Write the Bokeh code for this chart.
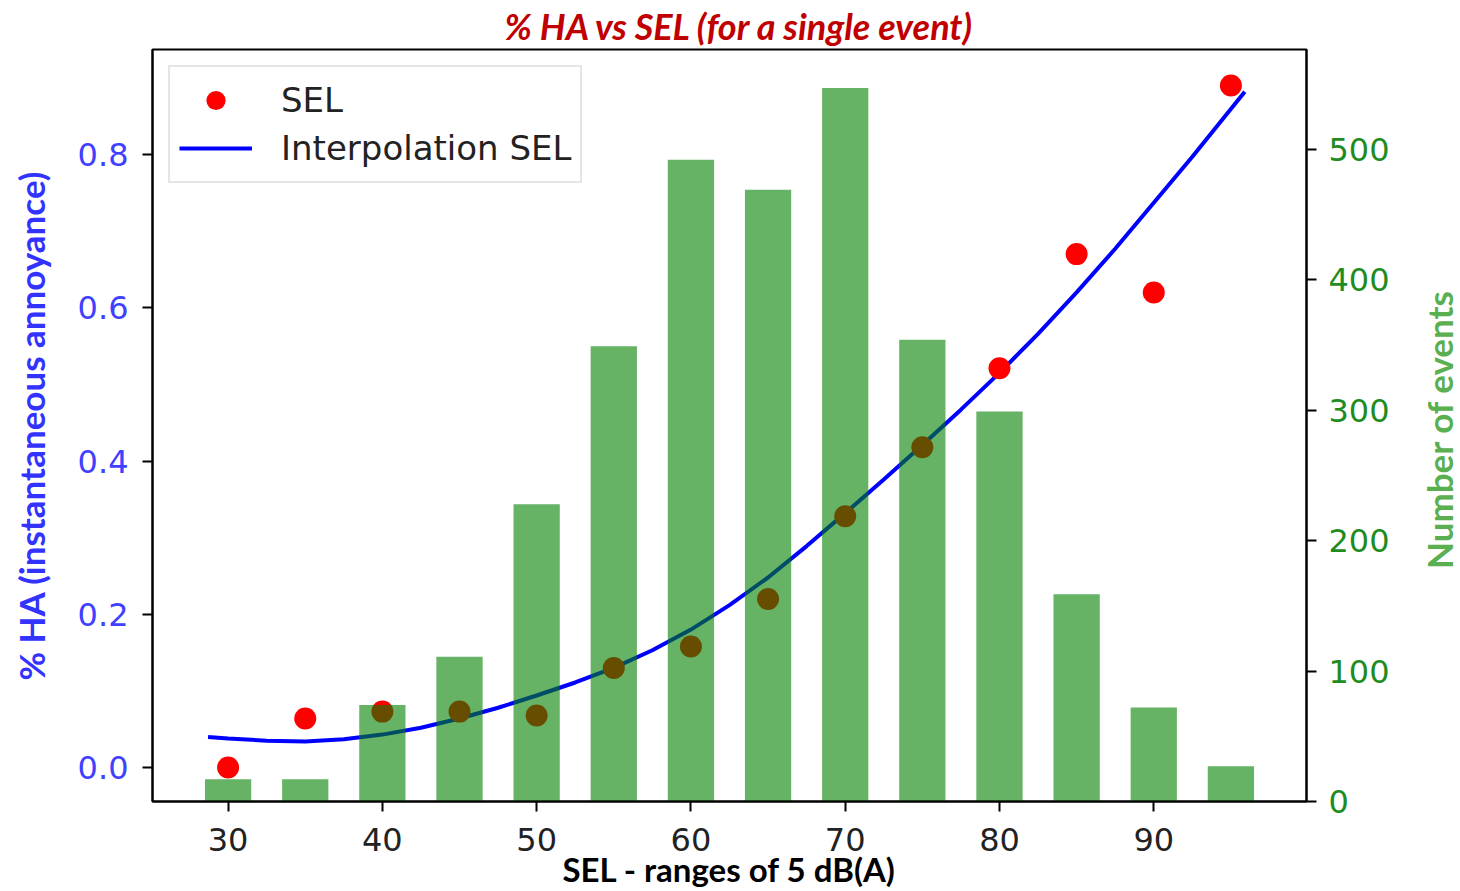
import math
from bokeh.plotting import figure
from bokeh.layouts import row
from bokeh.models import Range1d, LinearAxis, Label, FixedTicker, PrintfTickFormatter
from bokeh.embed import file_html
from bokeh.resources import INLINE

# ---- data ----
sel_x = [30, 35, 40, 45, 50, 55, 60, 65, 70, 75, 80, 85, 90, 95]
ha_values = [0.0, 0.064, 0.073, 0.073, 0.068, 0.130, 0.158, 0.220, 0.328, 0.418, 0.521, 0.670, 0.620, 0.890]
event_counts = [17, 17, 74, 111, 228, 349, 492, 469, 547, 354, 299, 159, 72, 27]

interp_x = [28.7, 30, 32.5, 35, 37.5, 40, 42.5, 45, 47.5, 50, 52.5, 55, 57.5, 60, 62.5, 65,
            67.5, 70, 72.5, 75, 77.5, 80, 82.5, 85, 87.5, 90, 92.5, 95.9]
interp_y = [0.040, 0.038, 0.035, 0.034, 0.037, 0.043, 0.052, 0.064, 0.078, 0.094, 0.111, 0.130,
            0.153, 0.180, 0.212, 0.248, 0.289, 0.332, 0.376, 0.421, 0.467, 0.515, 0.566, 0.620,
            0.677, 0.737, 0.797, 0.882]

x_ticks = [30, 40, 50, 60, 70, 80, 90]
left_ticks = [0.0, 0.2, 0.4, 0.6, 0.8]
right_ticks = [0, 100, 200, 300, 400, 500]

title_text = "% HA vs SEL (for a single event)"
x_label = "SEL - ranges of 5 dB(A)"
left_label = "% HA (instantaneous annoyance)"
right_label = "Number of events"

MAIN_W = 1406
SIDE_W = 1460 - MAIN_W

p = figure(width=MAIN_W, height=891, output_backend="svg", toolbar_location=None,
           x_range=Range1d(25.1, 99.9), y_range=Range1d(-0.0443, 0.937),
           min_border_left=152, min_border_right=MAIN_W - 1306, min_border_top=48,
           min_border_bottom=90, title=title_text)
p.extra_y_ranges = {"events": Range1d(0, 576.6)}

p.title.text_font = "Lato"
p.title.text_font_style = "bold italic"
p.title.text_font_size = "36px"
p.title.text_color = "#c00000"
p.title.align = "left"
p.title.offset = 352
p.title.standoff = 3

p.xgrid.visible = False
p.ygrid.visible = False
p.outline_line_color = "black"
p.outline_line_width = 2
p.background_fill_color = "white"
p.border_fill_color = "white"

# line and points first, bars drawn on top (as in the reference)
p.line(interp_x, interp_y, line_color="blue", line_width=4, legend_label="Interpolation SEL")
p.scatter(sel_x, ha_values, size=22, fill_color="red", line_color=None, legend_label="SEL")
p.vbar(x=sel_x, top=event_counts, bottom=0, width=3, fill_color="green", fill_alpha=0.6,
       line_color=None, y_range_name="events")

items = p.legend.items
p.legend.items = [items[1], items[0]]

lg = p.legend[0]
lg.location = "top_left"
lg.margin = 16
lg.padding = 9
lg.spacing = 0
lg.glyph_width = 73
lg.glyph_height = 48
lg.label_standoff = 29
lg.label_text_font = "DejaVu Sans"
lg.label_text_font_size = "34px"
lg.label_text_color = "#222222"
lg.border_line_color = "#cccccc"
lg.border_line_width = 2
lg.background_fill_alpha = 1.0

# x axis
xa = p.xaxis[0]
xa.ticker = FixedTicker(ticks=x_ticks)
xa.axis_label = x_label
xa.axis_label_text_font = "Lato"
xa.axis_label_text_font_style = "bold"
xa.axis_label_text_font_size = "33px"
xa.axis_label_text_color = "black"
xa.axis_label_standoff = -5
xa.major_label_text_font = "DejaVu Sans"
xa.major_label_text_font_size = "32px"
xa.major_label_text_color = "#222222"
xa.major_label_standoff = 16

# left axis
ya = p.yaxis[0]
ya.ticker = FixedTicker(ticks=left_ticks)
ya.formatter = PrintfTickFormatter(format="%.1f")
ya.axis_label = left_label
ya.axis_label_text_font = "Lato"
ya.axis_label_text_font_style = "bold"
ya.axis_label_text_font_size = "35px"
ya.axis_label_text_color = "#3333ff"
ya.axis_label_standoff = 23
ya.major_label_text_font = "DejaVu Sans"
ya.major_label_text_font_size = "32px"
ya.major_label_text_color = "#4040ff"
ya.major_label_standoff = 14

# right axis
ra = LinearAxis(y_range_name="events", ticker=FixedTicker(ticks=right_ticks))
ra.major_label_text_font = "DejaVu Sans"
ra.major_label_text_font_size = "32px"
ra.major_label_text_color = "#1e8c1e"
ra.major_label_standoff = 12
p.add_layout(ra, "right")

for ax in (xa, ya, ra):
    ax.axis_line_color = "black"
    ax.axis_line_width = 2
    ax.major_tick_line_color = "black"
    ax.major_tick_line_width = 2
    ax.major_tick_out = 10
    ax.major_tick_in = 0
    ax.minor_tick_line_color = None

# side strip carrying the right-hand axis title (reads bottom to top)
side = figure(width=SIDE_W, height=891, output_backend="svg", toolbar_location=None,
              x_range=Range1d(0, SIDE_W), y_range=Range1d(0, 891),
              x_axis_location=None, y_axis_location=None, min_border=0)
side.outline_line_color = None
side.xgrid.visible = False
side.ygrid.visible = False
side.add_layout(Label(x=1438 - MAIN_W, y=891 - 450, text=right_label, angle=math.pi / 2,
                      text_align="center", text_baseline="middle", text_font="Lato",
                      text_font_style="bold", text_font_size="35px", text_color="#5aaf50"))

open("out.html", "w").write(file_html(row(p, side), INLINE))
